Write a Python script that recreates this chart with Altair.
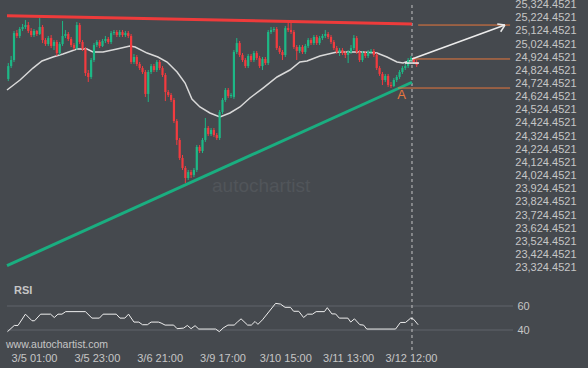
import altair as alt
import pandas as pd

BG = "#45494e"
RED = "#f23b3f"
GREEN = "#1db886"
ORANGE = "#e8773d"
LABEL = "#c6c6c6"

# ---------------- data ----------------
bar_index = list(range(-9, 135))
opens = [24759, 24857, 24903, 25108, 25086, 25139, 25154, 25169, 25124,
         25093, 25124, 25101, 25154, 25055, 25025, 25070, 25010, 25040, 24956,
         25025, 25086, 25101, 25063, 25017, 24994, 25169, 25040, 24987, 24804,
         24774, 24903, 25017, 25040, 25010, 25048, 25063, 25040, 25108, 25116,
         25093, 25116, 25093, 25108, 25086, 24888, 24926, 24873, 24842, 24812,
         24645, 24812, 24857, 24827, 24888, 24842, 24789, 24660, 24637, 24599,
         24439, 24295, 24158, 24082, 24006, 24051, 24029, 24067, 24242, 24211,
         24295, 24386, 24340, 24371, 24333, 24310, 24508, 24599, 24675, 24629,
         24622, 24964, 25032, 24941, 24903, 24857, 24934, 24903, 24956, 24918,
         24857, 24911, 24880, 25116, 25131, 25139, 24994, 24964, 24941, 25146,
         25131, 25116, 25002, 24972, 25002, 24964, 25010, 25055, 25032, 25078,
         25032, 25070, 25086, 25101, 25078, 25040, 24994, 24964, 24979, 24956,
         24941, 24964, 24994, 25070, 24964, 24903, 24956, 24934, 24964, 24972,
         24941, 24842, 24797, 24751, 24782, 24713, 24705, 24751, 24774, 24812,
         24842, 24857, 24903, 24918, 24888]
closes = [24857, 24903, 25108, 25086, 25139, 25154, 25169, 25124, 25093,
          25124, 25101, 25154, 25055, 25025, 25070, 25010, 25040, 24956, 25025,
          25086, 25101, 25063, 25017, 24994, 25169, 25040, 24987, 24804, 24774,
          24903, 25017, 25040, 25010, 25048, 25063, 25040, 25108, 25116, 25093,
          25116, 25093, 25108, 25086, 24888, 24926, 24873, 24842, 24812, 24645,
          24812, 24857, 24827, 24888, 24842, 24789, 24660, 24637, 24599, 24439,
          24295, 24158, 24082, 24006, 24051, 24029, 24067, 24242, 24211, 24295,
          24386, 24340, 24371, 24333, 24310, 24508, 24599, 24675, 24629, 24637,
          24964, 25032, 24941, 24903, 24857, 24934, 24903, 24956, 24918, 24857,
          24911, 24880, 25116, 25131, 25139, 24994, 24964, 24941, 25146, 25131,
          25116, 25002, 24972, 25002, 24964, 25010, 25055, 25032, 25078, 25032,
          25070, 25086, 25101, 25078, 25040, 24994, 24964, 24979, 24956, 24941,
          24964, 24994, 25070, 24964, 24903, 24956, 24934, 24964, 24972, 24941,
          24842, 24797, 24751, 24782, 24713, 24705, 24751, 24774, 24812, 24842,
          24857, 24903, 24918, 24888, 24865]
highs = [24880, 24934, 25124, 25131, 25154, 25177, 25207, 25192, 25146,
         25139, 25131, 25222, 25169, 25070, 25086, 25093, 25055, 25055, 25040,
         25200, 25131, 25116, 25078, 25032, 25192, 25185, 25055, 25002, 24827,
         24918, 25032, 25055, 25055, 25063, 25086, 25078, 25124, 25131, 25131,
         25131, 25131, 25124, 25124, 25101, 24949, 24941, 24888, 24857, 24827,
         24827, 24873, 24873, 24903, 24903, 24857, 24804, 24675, 24652, 24614,
         24454, 24310, 24181, 24097, 24067, 24067, 24082, 24257, 24257, 24310,
         24462, 24401, 24386, 24386, 24348, 24523, 24614, 24690, 24690, 24652,
         24979, 25070, 25048, 24956, 24918, 24949, 24949, 24972, 24972, 24934,
         24926, 24926, 25131, 25154, 25154, 25154, 25010, 24979, 25162, 25192,
         25185, 25131, 25017, 25017, 25017, 25025, 25070, 25070, 25093, 25093,
         25086, 25101, 25131, 25116, 25093, 25055, 25010, 24994, 24994, 24972,
         24979, 25017, 25093, 25086, 24979, 24972, 24972, 24979, 24987, 24987,
         24956, 24857, 24812, 24797, 24797, 24736, 24766, 24789, 24827, 24857,
         24873, 24918, 24934, 24926, 24903]
lows = [24743, 24842, 24888, 25070, 25070, 25124, 25139, 25108, 25078,
        25078, 25086, 25093, 25032, 25010, 25010, 24994, 24979, 24934, 24941,
        25010, 25070, 25048, 25002, 24979, 24979, 25025, 24972, 24782, 24736,
        24759, 24888, 25002, 24994, 25002, 25032, 25025, 25025, 25093, 25078,
        25078, 25078, 25078, 25070, 24873, 24873, 24857, 24827, 24797, 24622,
        24584, 24797, 24812, 24812, 24827, 24774, 24591, 24622, 24584, 24424,
        24257, 24143, 24067, 23968, 23991, 24006, 24013, 24051, 24196, 24196,
        24280, 24325, 24325, 24318, 24295, 24295, 24492, 24584, 24614, 24614,
        24607, 24949, 24926, 24888, 24842, 24842, 24888, 24888, 24903, 24842,
        24827, 24865, 24865, 25101, 25116, 24979, 24949, 24903, 24926, 25116,
        25101, 24987, 24903, 24956, 24949, 24949, 24994, 25017, 25017, 25017,
        25017, 25055, 25070, 25063, 25025, 24979, 24949, 24934, 24941, 24918,
        24880, 24949, 24979, 24949, 24888, 24888, 24918, 24918, 24949, 24926,
        24827, 24782, 24713, 24736, 24698, 24690, 24698, 24736, 24759, 24797,
        24827, 24842, 24888, 24873, 24850]

ma_index = [-9.45, -4.9, -0.35, 2.8, 6.65, 10.15, 15.06, 18.56, 20.66, 24.16,
            29.06, 33.6, 35.4, 39.6, 43.4, 46.6, 50.1, 52.9, 55.3, 58.1, 61.6,
            65.1, 68.6, 72.1, 75.6, 80.2, 85.1, 89.6, 93.1, 95.6, 100.1, 106.1,
            110.6, 115.2, 120.1, 123.6, 127.1, 129.2, 132.4]
ma_price = [24675, 24751, 24842, 24896, 24926, 24949, 24987, 24987, 24964, 24964,
            24987, 25010, 25002, 24956, 24926, 24888, 24812, 24728, 24606, 24546,
            24500, 24470, 24500, 24546, 24614, 24690, 24774, 24827, 24888, 24896,
            24934, 24964, 24964, 24964, 24956, 24926, 24888, 24880, 24903]

rsi_index = [-9.3, -6.9, -5.6, -3.0, -0.7, 0.2, 2.3, 5.8, 7.1, 8.4, 9.8, 11.1, 18.0,
             20.3, 22.9, 24.2, 28.8, 30.1, 31.8, 33.1, 35.0, 36.7, 38.0, 39.7, 41.0,
             43.6, 44.5, 45.9, 48.9, 50.1, 52.4, 53.7, 55.0, 56.4, 57.7, 63.6, 64.9,
             66.2, 67.9, 70.1, 71.2, 72.5, 74.8, 76.1, 77.4, 78.4, 80.0, 84.6, 86.3,
             87.9, 89.8, 90.9, 92.7, 94.4, 95.8, 97.5, 98.8, 101.7, 102.7, 104.3,
             105.6, 106.9, 109.9, 110.9, 112.2, 114.1, 115.4, 116.5, 126.6, 128.3,
             130.1, 131.9, 132.9, 134.5]
rsi_value = [38.6, 43.8, 43.8, 53.2, 47.7, 47.7, 53.2, 53.2, 50.4, 53.2, 53.2, 55.3,
             55.3, 49.9, 49.9, 53.2, 53.2, 49.9, 49.9, 53.2, 46.6, 46.6, 44.4, 44.4,
             46.6, 46.6, 45.8, 44.1, 44.1, 41.1, 41.6, 43.8, 41.1, 43.6, 40.8, 40.8,
             38.6, 41.6, 44.1, 44.1, 46.6, 49.3, 44.1, 44.1, 47.1, 44.7, 48.5, 62.2,
             61.6, 58.9, 58.9, 55.6, 55.6, 50.4, 53.2, 53.2, 55.3, 55.3, 58.6, 53.4,
             53.4, 49.9, 49.9, 46.6, 49.3, 44.4, 44.1, 40.8, 40.8, 46.3, 46.3, 49.9,
             49.0, 44.4]

# trend lines (start index, end index, start price, end price)
resistance = {"x0": [-9.45], "x1": [132.35], "y0": [25240], "y1": [25177]}
support = {"x0": [-9.45], "x1": [132.35], "y0": [23339], "y1": [24734]}
level_price = [25169, 24911, 24690]
level_start = [134.5, 132.5, 127.4]
level_end = [166.7, 166.7, 166.7]
arrow_x0 = [132.35, 162.2, 163.4]
arrow_y0 = [24911, 25177, 25118]
arrow_x1 = [164.9, 164.9, 164.9]
arrow_y1 = [25169, 25169, 25169]
last_marker = {"x0": [129.9], "x1": [134.8], "y0": [24880]}
pattern_label = {"i": [128.7], "p": [24637], "t": ["A"]}
now_index = [132.35]

price_ticks = [23324.4521, 23424.4521, 23524.4521, 23624.4521, 23724.4521,
               23824.4521, 23924.4521, 24024.4521, 24124.4521, 24224.4521,
               24324.4521, 24424.4521, 24524.4521, 24624.4521, 24724.4521,
               24824.4521, 24924.4521, 25024.4521, 25124.4521, 25224.4521,
               25324.4521]
rsi_ticks = [40, 60]
time_index = [0, 22, 44, 66, 88, 110, 132]
time_labels = ["3/5 01:00", "3/5 23:00", "3/6 21:00", "3/9 17:00",
               "3/10 15:00", "3/11 13:00", "3/12 12:00"]

# ---------------- scales / axes ----------------
XS = alt.Scale(domain=[-11.905, 167.72], nice=False, zero=False)
PRICE = alt.Scale(domain=[23324.4521, 25324.4521], range=[267.6, 4.6], nice=False, zero=False)
RSI = alt.Scale(domain=[40, 60], range=[330, 306], nice=False, zero=False)

label_expr = ("[" + ",".join("'%s'" % t for t in time_labels) + "][indexof(["
              + ",".join(str(v) for v in time_index) + "], datum.value)]")
x_axis = alt.Axis(values=time_index, labelExpr=label_expr, title=None, ticks=False,
                  tickSize=0, domain=False, grid=False, labelColor=LABEL,
                  labelFontSize=11, labelPadding=2, labelFlush=False, labelOverlap=False)
price_axis = alt.Axis(orient="right", values=price_ticks, format=",.4f", title=None,
                      ticks=False, tickSize=0, domain=False, grid=False,
                      labelAlign="right", labelPadding=63, labelColor=LABEL,
                      labelFontSize=11, labelOverlap=False, labelBaseline="middle")
rsi_axis = alt.Axis(orient="right", values=rsi_ticks, title=None, ticks=False,
                    tickSize=0, domain=False, grid=False, labelAlign="left",
                    labelPadding=4, labelColor=LABEL, labelFontSize=11,
                    labelOverlap=False, labelBaseline="middle")


def X(field):
    return alt.X(field, type="quantitative", scale=XS, axis=x_axis)


def YP(field, axis=None):
    return alt.Y(field, type="quantitative", scale=PRICE, axis=axis)


candles = pd.DataFrame({"i": bar_index, "o": opens, "h": highs, "l": lows, "c": closes})
candle_color = alt.condition("datum.c < datum.o", alt.value(RED), alt.value(GREEN))

wicks = alt.Chart(candles).mark_rule(strokeWidth=1).encode(
    x=X("i"), y=YP("l", price_axis), y2="h", color=candle_color)
bodies = alt.Chart(candles).mark_rule(strokeWidth=2.2).encode(
    x=X("i"), y=YP("o"), y2="c", color=candle_color)

ma = alt.Chart(pd.DataFrame({"i": ma_index, "p": ma_price})).mark_line(
    color="#d9d9d9", strokeWidth=1.5).encode(x=X("i"), y=YP("p"))

res_line = alt.Chart(pd.DataFrame(resistance)).mark_rule(
    color="#ee3b3b", strokeWidth=3).encode(x=X("x0"), x2="x1", y=YP("y0"), y2="y1")
sup_line = alt.Chart(pd.DataFrame(support)).mark_rule(
    color="#1aae80", strokeWidth=3).encode(x=X("x0"), x2="x1", y=YP("y0"), y2="y1")

levels = alt.Chart(pd.DataFrame({"p": level_price, "s": level_start, "e": level_end})).mark_rule(
    color=ORANGE, strokeWidth=1).encode(x=X("s"), x2="e", y=YP("p"))

arrow = alt.Chart(pd.DataFrame({"x0": arrow_x0, "y0": arrow_y0, "x1": arrow_x1, "y1": arrow_y1})).mark_rule(
    color="#ececec", strokeWidth=1.5).encode(x=X("x0"), x2="x1", y=YP("y0"), y2="y1")

marker = alt.Chart(pd.DataFrame(last_marker)).mark_rule(
    color="#f0f0f0", strokeWidth=1.5).encode(x=X("x0"), x2="x1", y=YP("y0"))

a_text = alt.Chart(pd.DataFrame(pattern_label)).mark_text(
    color=ORANGE, fontSize=13, align="center", baseline="middle").encode(
    x=X("i"), y=YP("p"), text="t")

now_line = alt.Chart(pd.DataFrame({"i": now_index})).mark_rule(
    color="#c4c4c4", strokeWidth=1, strokeDash=[3, 3]).encode(
    x=X("i"), y=alt.value(5), y2=alt.value(350))

rsi_grid = alt.Chart(pd.DataFrame({"v": rsi_ticks})).mark_rule(
    color="#60646a", strokeWidth=1).encode(
    y=alt.Y("v", type="quantitative", scale=RSI, axis=rsi_axis),
    x=alt.value(7), x2=alt.value(513))

rsi_line = alt.Chart(pd.DataFrame({"i": rsi_index, "v": rsi_value})).mark_line(
    color="#eeeeee", strokeWidth=1).encode(
    x=X("i"), y=alt.Y("v", type="quantitative", scale=RSI, axis=None))

rsi_title = alt.Chart(pd.DataFrame({"t": ["RSI"]})).mark_text(
    color=LABEL, fontSize=11, fontWeight="bold", align="left", baseline="middle").encode(
    x=alt.value(14), y=alt.value(291), text="t")

site = alt.Chart(pd.DataFrame({"t": ["www.autochartist.com"]})).mark_text(
    color=LABEL, fontSize=10.5, align="left", baseline="middle").encode(
    x=alt.value(6), y=alt.value(345), text="t")

watermark = alt.Chart(pd.DataFrame({"t": ["autochartist"]})).mark_text(
    color="#51555a", fontSize=19, align="left", baseline="middle").encode(
    x=alt.value(212), y=alt.value(186), text="t")

chart = alt.layer(
    watermark, rsi_grid, now_line, sup_line, res_line, levels, ma, wicks, bodies,
    marker, arrow, a_text, rsi_line, rsi_title, site
).resolve_scale(y="independent").properties(
    width=513, height=350, autosize="none",
    padding={"left": 0, "top": 0, "right": 75, "bottom": 18},
    background=BG,
).configure_view(stroke=None).configure_axis(
    labelFont="Liberation Sans").configure_text(font="Liberation Sans")

chart.save("out.html", embed_options={"renderer": "svg", "actions": False})
